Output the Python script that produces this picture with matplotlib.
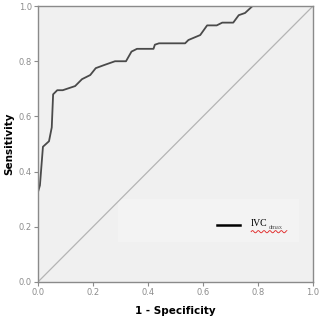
import numpy as np
import matplotlib
matplotlib.use("Agg")
import matplotlib.pyplot as plt

# ROC curve
fpr = [0.0, 0.0, 0.007, 0.018, 0.04, 0.05, 0.055, 0.07, 0.09, 0.135, 0.16, 0.19,
       0.21, 0.24, 0.28, 0.32, 0.34, 0.36, 0.42, 0.425, 0.44, 0.535, 0.547, 0.59,
       0.615, 0.65, 0.67, 0.71, 0.73, 0.753, 0.78, 1.0]
tpr = [0.0, 0.326, 0.35, 0.49, 0.51, 0.56, 0.68, 0.695, 0.695, 0.71, 0.735, 0.75,
       0.775, 0.786, 0.80, 0.80, 0.835, 0.845, 0.845, 0.86, 0.865, 0.865, 0.877, 0.895,
       0.93, 0.93, 0.94, 0.94, 0.967, 0.975, 1.0, 1.0]
ticks = [0.0, 0.2, 0.4, 0.6, 0.8, 1.0]
tick_labels = ["0.0", "0.2", "0.4", "0.6", "0.8", "1.0"]

fig = plt.figure(figsize=(3.22, 3.20), dpi=100)
ax = fig.add_axes([0.118, 0.119, 0.854, 0.862])
ax.set_facecolor('#f0f0f0')

ax.plot([0, 1], [0, 1], color='#b4b4b4', lw=0.9)
ax.plot(fpr[1:], tpr[1:], color='#4a4a4a', lw=1.3)

ax.set_xlim(0, 1)
ax.set_ylim(0, 1)
ax.set_xticks(ticks)
ax.set_yticks(ticks)
ax.set_xticklabels(tick_labels)
ax.set_yticklabels(tick_labels)
ax.tick_params(labelsize=6, colors='#8c8c8c', length=3, width=0.8, pad=1.5)
for s in ax.spines.values():
    s.set_color('#8a8a8a')
    s.set_linewidth(1.0)

ax.set_xlabel('1 - Specificity', fontsize=7.5, fontweight='bold', labelpad=6)
ax.set_ylabel('Sensitivity', fontsize=7.5, fontweight='bold', labelpad=3)

# legend box area (slightly lighter patch)
ax.add_patch(plt.Rectangle((0.29, 0.145), 0.66, 0.155, transform=ax.transAxes,
                           facecolor='#f3f3f3', edgecolor='none', zorder=0.5))
ax.plot([0.651, 0.735], [0.207, 0.207], color='black', lw=1.8, transform=ax.transAxes)
ax.text(0.775, 0.212, 'IVC', transform=ax.transAxes, fontsize=7,
        family='Liberation Serif', va='center', ha='left')
ax.text(0.840, 0.197, 'dmax', transform=ax.transAxes, fontsize=4.5,
        family='Liberation Serif', va='center', ha='left', color='#555555')
# red spell-check squiggle under label
xs = np.linspace(0.775, 0.905, 80)
ax.plot(xs, 0.182 + 0.004 * np.sin(xs * 300), color='#e02020', lw=0.6,
        transform=ax.transAxes)

fig.savefig('out.png', dpi=100)
